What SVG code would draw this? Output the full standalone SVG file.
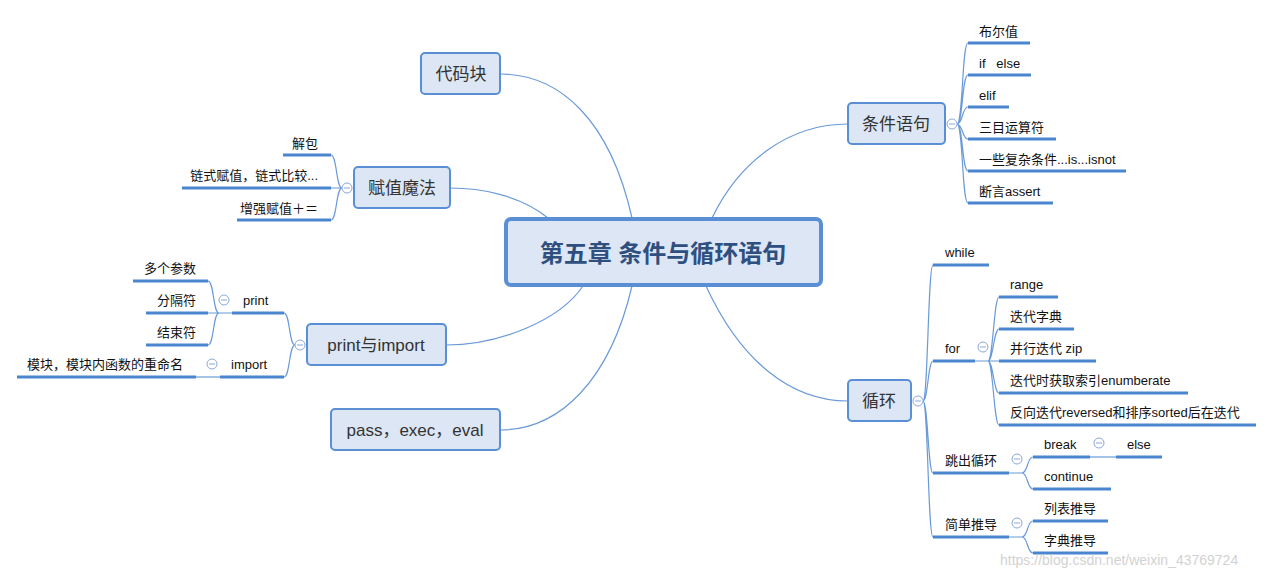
<svg xmlns="http://www.w3.org/2000/svg" width="1274" height="570" viewBox="0 0 1274 570">
<style>
text{font-family:"Liberation Sans","Noto Sans CJK SC",sans-serif;fill:#111;white-space:pre}
.t{font-size:13px}
.n{font-size:17px;fill:#333;text-anchor:middle}
.r{text-anchor:end}
.box{fill:#dce6f4;stroke:#5a8fd6;stroke-width:2}
.c{fill:none;stroke:#6a9ad8;stroke-width:1.2}
.u{stroke:#4a86d0;stroke-width:3}
.k{fill:#fff;stroke:#8aa8d8;stroke-width:1}
.km{stroke:#8aa8d8;stroke-width:1}
</style>
<rect width="1274" height="570" fill="#fff"/>
<g id="connectors">
<path class="c" d="M632,218 C610,120 560,74 500,74"/>
<path class="c" d="M548,218 C520,195 480,188 450,188"/>
<path class="c" d="M583,286 C560,320 500,345 446,345"/>
<path class="c" d="M632,286 C610,380 560,430 500,430"/>
<path class="c" d="M712,218 C740,160 790,124 848,124"/>
<path class="c" d="M706,286 C740,360 790,401 848,401"/>
<path class="c" d="M957,124 C963,124 962,43 968,43 M957,124 C963,124 962,75 968,75 M957,124 C963,124 962,107 968,107 M957,124 C963,124 962,139 968,139 M957,124 C963,124 962,171 968,171 M957,124 C963,124 962,203 968,203"/>
<path class="c" d="M342,188 C336,188 337,155 331,155 M342,188 L331,188 M342,188 C336,188 337,220 331,220"/>
<path class="c" d="M295,345 C289,345 290,313 284,313 M295,345 C289,345 290,377 284,377"/>
<path class="c" d="M232,313 L208,313 M219,313 C213,313 214,281 208,281 M219,313 C213,313 214,345 208,345"/>
<path class="c" d="M220,377 L196,377"/>
<path class="c" d="M923,401 C928,401 928,265 933,265 M923,401 C928,401 928,361 933,361 M923,401 C928,401 928,473 933,473 M923,401 C928,401 928,537 933,537"/>
<path class="c" d="M975,361 L999,361 M988,361 C993,361 994,297 999,297 M988,361 C993,361 994,329 999,329 M988,361 C993,361 994,393 999,393 M988,361 C993,361 994,425 999,425"/>
<path class="c" d="M1009,473 L1022,473 C1028,473 1027,457 1033,457 M1022,473 C1028,473 1027,489 1033,489"/>
<path class="c" d="M1090,457 L1116,457"/>
<path class="c" d="M1009,537 L1022,537 C1028,537 1027,521 1033,521 M1022,537 C1028,537 1027,553 1033,553"/>
</g>
<g id="center"><rect x="506" y="219" width="315" height="66" rx="5" fill="#dce6f4" stroke="#5a8fd6" stroke-width="4"/><text x="663" y="262" style="font-size:24px;font-weight:bold;fill:#2f4f7f;text-anchor:middle">第五章 条件与循环语句</text></g>
<g id="n-daimakuai"><rect class="box" x="421" y="53" width="79" height="41" rx="4"/><text class="n" x="461" y="80">代码块</text></g>
<g id="n-fuzhi"><rect class="box" x="354" y="167" width="96" height="41" rx="4"/><text class="n" x="402" y="194">赋值魔法</text></g>
<g id="n-print"><rect class="box" x="307" y="324" width="139" height="41" rx="4"/><text class="n" x="376" y="351">print与import</text></g>
<g id="n-pass"><rect class="box" x="331" y="409" width="169" height="41" rx="4"/><text class="n" x="415" y="436">pass，exec，eval</text></g>
<g id="n-tiaojian"><rect class="box" x="848" y="103" width="97" height="41" rx="4"/><text class="n" x="896" y="130">条件语句</text></g>
<g id="n-xunhuan"><rect class="box" x="848" y="380" width="63" height="41" rx="4"/><text class="n" x="879" y="407">循环</text></g>
<g id="toggles">
<circle class="k" cx="952" cy="124" r="5"/><line class="km" x1="949" y1="124" x2="955" y2="124"/>
<circle class="k" cx="347" cy="188" r="5"/><line class="km" x1="344" y1="188" x2="350" y2="188"/>
<circle class="k" cx="300" cy="345" r="5"/><line class="km" x1="297" y1="345" x2="303" y2="345"/>
<circle class="k" cx="224" cy="300" r="5"/><line class="km" x1="221" y1="300" x2="227" y2="300"/>
<circle class="k" cx="212" cy="364" r="5"/><line class="km" x1="209" y1="364" x2="215" y2="364"/>
<circle class="k" cx="918" cy="401" r="5"/><line class="km" x1="915" y1="401" x2="921" y2="401"/>
<circle class="k" cx="983" cy="347" r="5"/><line class="km" x1="980" y1="347" x2="986" y2="347"/>
<circle class="k" cx="1017" cy="459" r="5"/><line class="km" x1="1014" y1="459" x2="1020" y2="459"/>
<circle class="k" cx="1099" cy="443" r="5"/><line class="km" x1="1096" y1="443" x2="1102" y2="443"/>
<circle class="k" cx="1017" cy="523" r="5"/><line class="km" x1="1014" y1="523" x2="1020" y2="523"/>
</g>
<g id="leaves-tiaojian">
<line class="u" x1="968" y1="43" x2="1030" y2="43"/><text class="t" x="979" y="36">布尔值</text>
<line class="u" x1="968" y1="75" x2="1031" y2="75"/><text class="t" x="979" y="68" xml:space="preserve">if   else</text>
<line class="u" x1="968" y1="107" x2="1009" y2="107"/><text class="t" x="979" y="100">elif</text>
<line class="u" x1="968" y1="139" x2="1056" y2="139"/><text class="t" x="979" y="132">三目运算符</text>
<line class="u" x1="968" y1="171" x2="1126" y2="171"/><text class="t" x="979" y="164">一些复杂条件...is...isnot</text>
<line class="u" x1="968" y1="203" x2="1053" y2="203"/><text class="t" x="979" y="196">断言assert</text>
</g>
<g id="leaves-fuzhi">
<line class="u" x1="283" y1="155" x2="331" y2="155"/><text class="t r" x="318" y="148">解包</text>
<line class="u" x1="182" y1="188" x2="331" y2="188"/><text class="t r" x="318" y="180">链式赋值，链式比较...</text>
<line class="u" x1="237" y1="220" x2="331" y2="220"/><text class="t r" x="318" y="213">增强赋值＋＝</text>
</g>
<g id="leaves-print">
<line class="u" x1="232" y1="313" x2="284" y2="313"/><text class="t" x="243" y="305">print</text>
<line class="u" x1="220" y1="377" x2="284" y2="377"/><text class="t" x="231" y="369">import</text>
<line class="u" x1="133" y1="281" x2="208" y2="281"/><text class="t r" x="196" y="273">多个参数</text>
<line class="u" x1="146" y1="313" x2="208" y2="313"/><text class="t r" x="196" y="305">分隔符</text>
<line class="u" x1="146" y1="345" x2="208" y2="345"/><text class="t r" x="196" y="337">结束符</text>
<line class="u" x1="17" y1="377" x2="196" y2="377"/><text class="t r" x="183" y="369">模块，模块内函数的重命名</text>
</g>
<g id="leaves-xunhuan">
<line class="u" x1="933" y1="265" x2="989" y2="265"/><text class="t" x="945" y="257">while</text>
<line class="u" x1="933" y1="361" x2="975" y2="361"/><text class="t" x="945" y="353">for</text>
<line class="u" x1="933" y1="473" x2="1009" y2="473"/><text class="t" x="945" y="465">跳出循环</text>
<line class="u" x1="933" y1="537" x2="1009" y2="537"/><text class="t" x="945" y="529">简单推导</text>
<line class="u" x1="999" y1="297" x2="1058" y2="297"/><text class="t" x="1010" y="289">range</text>
<line class="u" x1="999" y1="329" x2="1074" y2="329"/><text class="t" x="1010" y="321">迭代字典</text>
<line class="u" x1="999" y1="361" x2="1096" y2="361"/><text class="t" x="1010" y="353">并行迭代 zip</text>
<line class="u" x1="999" y1="393" x2="1188" y2="393"/><text class="t" x="1010" y="385">迭代时获取索引enumberate</text>
<line class="u" x1="999" y1="425" x2="1256" y2="425"/><text class="t" x="1010" y="417">反向迭代reversed和排序sorted后在迭代</text>
<line class="u" x1="1033" y1="457" x2="1090" y2="457"/><text class="t" x="1044" y="449">break</text>
<line class="u" x1="1116" y1="457" x2="1162" y2="457"/><text class="t" x="1127" y="449">else</text>
<line class="u" x1="1033" y1="489" x2="1111" y2="489"/><text class="t" x="1044" y="481">continue</text>
<line class="u" x1="1033" y1="521" x2="1108" y2="521"/><text class="t" x="1044" y="513">列表推导</text>
<line class="u" x1="1033" y1="553" x2="1108" y2="553"/><text class="t" x="1044" y="545">字典推导</text>
</g>
<text x="1000" y="565" style="font-size:14px;fill:#c8c8c8;opacity:0.8">https://blog.csdn.net/weixin_43769724</text>
</svg>
